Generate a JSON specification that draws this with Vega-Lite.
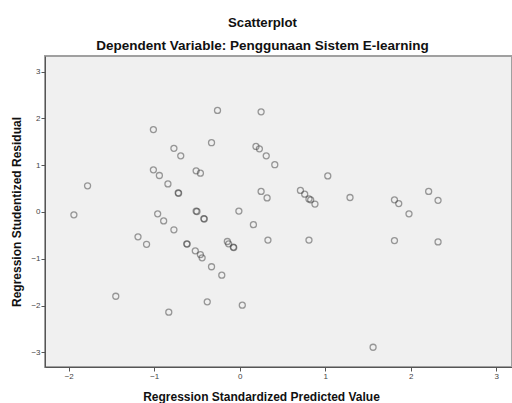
{
  "$schema": "https://vega.github.io/schema/vega-lite/v6.json",
  "autosize": "none",
  "width": 467,
  "height": 311,
  "padding": {"left": 45, "top": 56, "right": 0, "bottom": 36},
  "background": "#ffffff",
  "title": {
    "text": "Scatterplot",
    "subtitle": "Dependent Variable: Penggunaan Sistem E-learning",
    "anchor": "middle",
    "frame": "group",
    "dx": -16,
    "offset": 3,
    "font": "Liberation Sans",
    "fontSize": 13.2,
    "fontWeight": "bold",
    "color": "#111111",
    "subtitleFont": "Liberation Sans",
    "subtitleFontSize": 13.5,
    "subtitleFontWeight": "bold",
    "subtitleColor": "#111111",
    "subtitlePadding": 8.5
  },
  "config": {
    "view": {"fill": "#f0f0f0", "stroke": "#a0a0a0", "strokeWidth": 2},
    "axis": {
      "grid": false,
      "domainColor": "#555555",
      "domainWidth": 1,
      "tickColor": "#555555",
      "tickSize": 4,
      "labelFont": "Liberation Sans",
      "labelFontSize": 8,
      "labelColor": "#444444",
      "titleFont": "Liberation Sans",
      "titleFontSize": 12,
      "titleFontWeight": "bold",
      "titleColor": "#111111"
    }
  },
  "data": {
    "values": [
      {"pred": -1.94, "resid": -0.06},
      {"pred": -1.78, "resid": 0.56},
      {"pred": -1.45, "resid": -1.80},
      {"pred": -1.19, "resid": -0.53},
      {"pred": -1.09, "resid": -0.69},
      {"pred": -1.01, "resid": 1.76},
      {"pred": -1.01, "resid": 0.90},
      {"pred": -0.96, "resid": -0.04},
      {"pred": -0.94, "resid": 0.78},
      {"pred": -0.89, "resid": -0.19},
      {"pred": -0.84, "resid": 0.60},
      {"pred": -0.83, "resid": -2.14},
      {"pred": -0.77, "resid": 1.36},
      {"pred": -0.77, "resid": -0.38},
      {"pred": -0.72, "resid": 0.41},
      {"pred": -0.715, "resid": 0.40},
      {"pred": -0.69, "resid": 1.20},
      {"pred": -0.62, "resid": -0.68},
      {"pred": -0.615, "resid": -0.685},
      {"pred": -0.52, "resid": -0.83},
      {"pred": -0.51, "resid": 0.88},
      {"pred": -0.51, "resid": 0.02},
      {"pred": -0.50, "resid": 0.01},
      {"pred": -0.46, "resid": 0.83},
      {"pred": -0.46, "resid": -0.91},
      {"pred": -0.44, "resid": -0.98},
      {"pred": -0.42, "resid": -0.14},
      {"pred": -0.415, "resid": -0.15},
      {"pred": -0.38, "resid": -1.92},
      {"pred": -0.33, "resid": 1.48},
      {"pred": -0.33, "resid": -1.17},
      {"pred": -0.26, "resid": 2.17},
      {"pred": -0.21, "resid": -1.35},
      {"pred": -0.145, "resid": -0.63},
      {"pred": -0.13, "resid": -0.68},
      {"pred": -0.075, "resid": -0.75},
      {"pred": -0.07, "resid": -0.76},
      {"pred": -0.01, "resid": 0.02},
      {"pred": 0.03, "resid": -1.99},
      {"pred": 0.16, "resid": -0.27},
      {"pred": 0.19, "resid": 1.40},
      {"pred": 0.23, "resid": 1.35},
      {"pred": 0.25, "resid": 2.14},
      {"pred": 0.25, "resid": 0.44},
      {"pred": 0.31, "resid": 1.20},
      {"pred": 0.32, "resid": 0.30},
      {"pred": 0.33, "resid": -0.60},
      {"pred": 0.41, "resid": 1.01},
      {"pred": 0.71, "resid": 0.46},
      {"pred": 0.76, "resid": 0.38},
      {"pred": 0.81, "resid": 0.28},
      {"pred": 0.83, "resid": 0.26},
      {"pred": 0.88, "resid": 0.17},
      {"pred": 0.81, "resid": -0.60},
      {"pred": 1.03, "resid": 0.77},
      {"pred": 1.29, "resid": 0.31},
      {"pred": 1.56, "resid": -2.89},
      {"pred": 1.81, "resid": 0.26},
      {"pred": 1.86, "resid": 0.18},
      {"pred": 1.81, "resid": -0.61},
      {"pred": 1.98, "resid": -0.04},
      {"pred": 2.21, "resid": 0.44},
      {"pred": 2.32, "resid": 0.25},
      {"pred": 2.32, "resid": -0.64}
    ]
  },
  "mark": {
    "type": "point",
    "shape": "circle",
    "filled": false,
    "size": 36,
    "stroke": "#3a3a3a",
    "strokeOpacity": 0.7,
    "strokeWidth": 1.3
  },
  "encoding": {
    "x": {
      "field": "pred",
      "type": "quantitative",
      "scale": {"domain": [-2.278, 3.185], "nice": false, "zero": false},
      "axis": {
        "values": [-2, -1, 0, 1, 2, 3],
        "title": "Regression Standardized Predicted Value",
        "titleX": 216,
        "titleY": 33,
        "titleBaseline": "alphabetic",
        "titleAnchor": "middle",
        "labelPadding": 1
      }
    },
    "y": {
      "field": "resid",
      "type": "quantitative",
      "scale": {"domain": [-3.312, 3.333], "nice": false, "zero": false},
      "axis": {
        "values": [-3, -2, -1, 0, 1, 2, 3],
        "title": "Regression Studentized Residual",
        "labelPadding": 1,
        "titlePadding": 7
      }
    }
  }
}
